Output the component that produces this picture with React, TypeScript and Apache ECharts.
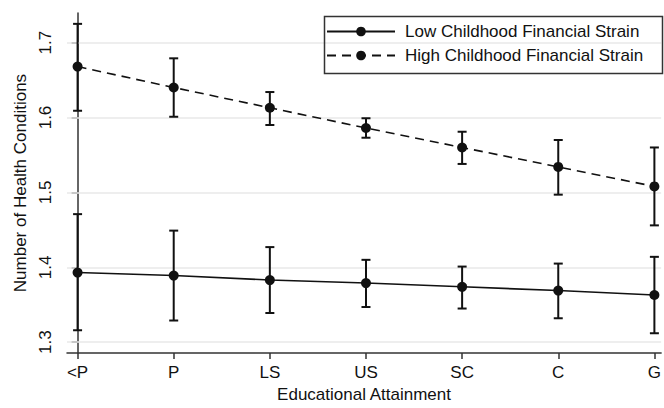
import React, { useEffect, useRef } from "react";
import * as echarts from "echarts";

const categories = ["<P", "P", "LS", "US", "SC", "C", "G"];
const lowMean = [1.393, 1.389, 1.383, 1.379, 1.374, 1.369, 1.363];
const lowLower = [1.316, 1.329, 1.339, 1.347, 1.345, 1.332, 1.312];
const lowUpper = [1.471, 1.449, 1.427, 1.410, 1.401, 1.405, 1.414];
const highMean = [1.668, 1.640, 1.613, 1.586, 1.560, 1.534, 1.508];
const highLower = [1.609, 1.601, 1.590, 1.573, 1.538, 1.497, 1.456];
const highUpper = [1.725, 1.679, 1.634, 1.599, 1.581, 1.570, 1.560];
const yTicks = [1.3, 1.4, 1.5, 1.6, 1.7];
const seriesNames = ["Low Childhood Financial Strain", "High Childhood Financial Strain"];

const FONT = "Liberation Sans, Arial, sans-serif";
const INK = "#111";
const FS = 17;

function errorSeries(lower: number[], upper: number[]) {
  return {
    type: "custom",
    silent: true,
    z: 3,
    data: categories.map((_, i) => [i, lower[i], upper[i]]),
    renderItem: (params: any, api: any) => {
      const x = api.value(0);
      const lo = api.coord([x, api.value(1)]);
      const hi = api.coord([x, api.value(2)]);
      const hw = 4.5;
      const style = { stroke: INK, lineWidth: 2 };
      return {
        type: "group",
        children: [
          { type: "line", shape: { x1: lo[0], y1: lo[1], x2: hi[0], y2: hi[1] }, style },
          { type: "line", shape: { x1: lo[0] - hw, y1: lo[1], x2: lo[0] + hw, y2: lo[1] }, style },
          { type: "line", shape: { x1: hi[0] - hw, y1: hi[1], x2: hi[0] + hw, y2: hi[1] }, style },
        ],
      };
    },
  };
}

export default function App() {
  const ref = useRef<HTMLDivElement>(null);
  useEffect(() => {
    document.body.style.margin = "0";
    const chart = echarts.init(ref.current!, null, { renderer: "svg" });
    chart.setOption({
      animation: false,
      backgroundColor: "#fff",
      textStyle: { fontFamily: FONT },
      grid: { left: 67, right: 0, top: 13, bottom: 50 },
      legend: {
        orient: "vertical",
        left: 326,
        top: 23,
        itemWidth: 68,
        itemHeight: 12,
        itemGap: 7,
        padding: 0,
        data: seriesNames,
        textStyle: { fontFamily: FONT, fontSize: FS, color: INK, padding: [0, 0, 0, 5] },
      },
      graphic: [
        {
          type: "rect",
          left: 322,
          top: 14,
          shape: { width: 338, height: 57 },
          style: { fill: "none", stroke: "#333", lineWidth: 1.5 },
          z: 10,
        },
      ],
      xAxis: {
        type: "value",
        min: -0.11,
        max: 6.07,
        name: "Educational Attainment",
        nameLocation: "middle",
        nameGap: 32,
        nameTextStyle: { fontFamily: FONT, fontSize: FS, color: INK },
        axisLine: { show: true, lineStyle: { color: "#333", width: 1.5 } },
        axisTick: {
          show: true,
          length: 6,
          customValues: categories.map((_, i) => i),
          lineStyle: { color: "#333", width: 1.5 },
        },
        axisLabel: {
          customValues: categories.map((_, i) => i),
          formatter: (v: number) => categories[Math.round(v)],
          fontFamily: FONT,
          fontSize: FS,
          color: INK,
          margin: 11,
        },
        splitLine: { show: false },
      },
      yAxis: {
        type: "value",
        min: 1.2855,
        max: 1.7395,
        name: "Number of Health Conditions",
        nameLocation: "middle",
        nameGap: 38,
        nameTextStyle: { fontFamily: FONT, fontSize: FS, color: INK },
        axisLine: { show: true, lineStyle: { color: "#333", width: 1.5 } },
        axisTick: {
          show: true,
          length: 6,
          customValues: yTicks,
          lineStyle: { color: "#333", width: 1.5 },
        },
        axisLabel: {
          customValues: yTicks,
          formatter: (v: number) => v.toFixed(1),
          rotate: 90,
          fontFamily: FONT,
          fontSize: FS,
          color: INK,
          margin: 13,
        },
        splitLine: { show: false },
      },
      series: [
        {
          name: seriesNames[0],
          type: "line",
          data: categories.map((_, i) => [i, lowMean[i]]),
          symbol: "circle",
          symbolSize: 10,
          itemStyle: { color: INK },
          lineStyle: { color: INK, width: 1.6, type: "solid" },
          z: 4,
          markLine: {
            silent: true,
            symbol: "none",
            label: { show: false },
            lineStyle: { color: "#e8e8e8", width: 1.5, type: "solid" },
            data: yTicks.map((t) => ({ yAxis: t })),
            z: 1,
          },
        },
        {
          name: seriesNames[1],
          type: "line",
          data: categories.map((_, i) => [i, highMean[i]]),
          symbol: "circle",
          symbolSize: 10,
          itemStyle: { color: INK },
          lineStyle: { color: INK, width: 1.6, type: [9, 6] },
          z: 4,
        },
        errorSeries(lowLower, lowUpper),
        errorSeries(highLower, highUpper),
      ],
    });
    return () => chart.dispose();
  }, []);
  return <div ref={ref} style={{ width: 664, height: 408 }} />;
}
